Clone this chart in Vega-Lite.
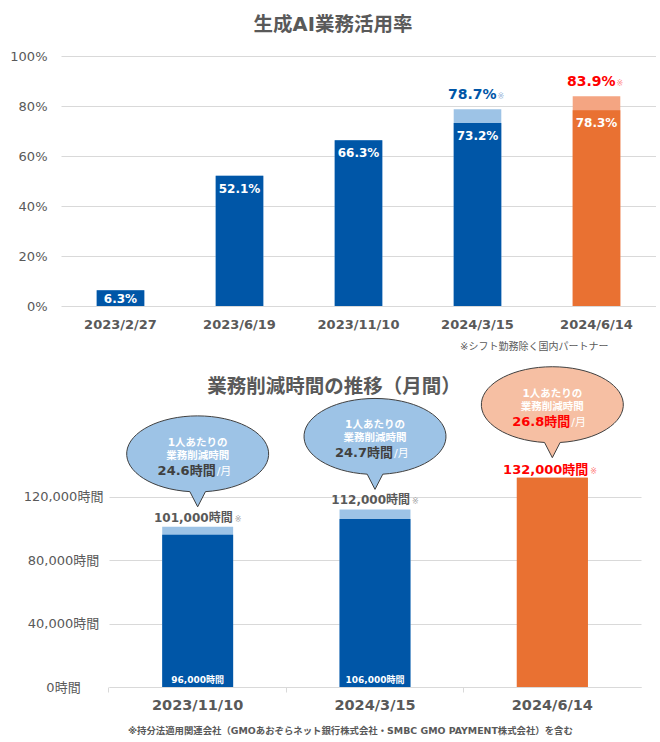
{
  "$schema": "https://vega.github.io/schema/vega-lite/v6.json",
  "background": "white",
  "padding": 0,
  "autosize": {"type": "pad"},
  "config": {
    "view": {"stroke": null},
    "font": "DejaVu Sans, Noto Sans CJK JP",
    "locale": {"number": {"decimal": ".", "thousands": ",", "grouping": [3], "currency": ["", "時間"]}}
  },
  "spacing": 159,
  "bounds": "flush",
  "vconcat": [
    {
      "width": 595,
      "height": 250,
      "title": {"text": "生成AI業務活用率", "fontSize": 19.5, "fontWeight": "bold", "color": "#595959", "anchor": "middle", "frame": "group", "baseline": "middle", "offset": -44, "dx": -25.5},
      "data": {"values": [
        {"date": "2023/2/27", "base": 0.063, "total": 0.063, "kind": "past"},
        {"date": "2023/6/19", "base": 0.521, "total": 0.521, "kind": "past"},
        {"date": "2023/11/10", "base": 0.663, "total": 0.663, "kind": "past"},
        {"date": "2024/3/15", "base": 0.732, "total": 0.787, "kind": "past"},
        {"date": "2024/6/14", "base": 0.783, "total": 0.839, "kind": "latest"}
      ]},
      "encoding": {
        "x": {"field": "date", "type": "nominal", "sort": null,
          "scale": {"type": "band", "domain": ["2023/2/27", "2023/6/19", "2023/11/10", "2024/3/15", "2024/6/14"], "paddingInner": 0.6, "paddingOuter": 0.3},
          "axis": {"title": null, "labelAngle": 0, "labelFontSize": 13, "labelFontWeight": "bold", "labelColor": "#595959", "ticks": false, "tickSize": 0, "domain": false, "labelPadding": 12, "grid": false}}
      },
      "layer": [
        {"mark": {"type": "bar"},
          "encoding": {
            "y": {"field": "total", "type": "quantitative", "scale": {"domain": [0, 1], "nice": false},
              "axis": {"values": [0, 0.2, 0.4, 0.6, 0.8, 1], "format": ".0%", "grid": true, "gridColor": "#D9D9D9", "ticks": false, "tickSize": 0, "domain": false, "labelPadding": 14, "labelFontSize": 13, "labelColor": "#595959", "title": ".", "titleOpacity": 0, "titleX": -61, "titleY": -56, "titleAlign": "left", "titleBaseline": "top", "titleAngle": 0, "titleFontSize": 10}},
            "color": {"condition": {"test": "datum.kind === 'latest'", "value": "#F4A582"}, "value": "#9DC3E6"}
          }},
        {"mark": {"type": "bar"},
          "encoding": {
            "y": {"field": "base", "type": "quantitative", "scale": {"domain": [0, 1], "nice": false}},
            "color": {"condition": {"test": "datum.kind === 'latest'", "value": "#E97132"}, "value": "#0056A7"}
          }},
        {"transform": [{"filter": "datum.base >= 0.1"}],
          "mark": {"type": "text", "baseline": "top", "dy": 8, "fontSize": 12, "fontWeight": "bold", "color": "white"},
          "encoding": {
            "y": {"field": "base", "type": "quantitative", "scale": {"domain": [0, 1], "nice": false}},
            "text": {"field": "base", "type": "quantitative", "format": ".1%"}
          }},
        {"transform": [{"filter": "datum.base < 0.1"}],
          "mark": {"type": "text", "baseline": "top", "dy": 4, "fontSize": 12, "fontWeight": "bold", "color": "white"},
          "encoding": {
            "y": {"field": "base", "type": "quantitative", "scale": {"domain": [0, 1], "nice": false}},
            "text": {"field": "base", "type": "quantitative", "format": ".1%"}
          }},
        {"transform": [{"filter": "datum.total > datum.base"}],
          "mark": {"type": "text", "align": "right", "baseline": "alphabetic", "dx": 19, "dy": -10, "fontSize": 14, "fontWeight": "bold"},
          "encoding": {
            "y": {"field": "total", "type": "quantitative", "scale": {"domain": [0, 1], "nice": false}},
            "text": {"field": "total", "type": "quantitative", "format": ".1%"},
            "color": {"condition": {"test": "datum.kind === 'latest'", "value": "#FF0000"}, "value": "#0056A7"}
          }},
        {"transform": [{"filter": "datum.total > datum.base"}],
          "mark": {"type": "text", "text": "※", "align": "left", "baseline": "alphabetic", "dx": 20, "dy": -10, "fontSize": 8},
          "encoding": {
            "y": {"field": "total", "type": "quantitative", "scale": {"domain": [0, 1], "nice": false}},
            "color": {"condition": {"test": "datum.kind === 'latest'", "value": "#FF8C8C"}, "value": "#9DB8DA"}
          }},
        {"data": {"values": [{"note": "※シフト勤務除く国内パートナー"}]},
          "mark": {"type": "text", "align": "right", "baseline": "middle", "dx": 12, "dy": 41, "fontSize": 10, "color": "#595959"},
          "encoding": {
            "x": {"datum": "2024/6/14"},
            "y": {"datum": 0, "type": "quantitative", "scale": {"domain": [0, 1], "nice": false}},
            "text": {"field": "note", "type": "nominal"}
          }}
      ]
    },
    {
      "spacing": 0,
      "bounds": "flush",
      "hconcat": [
        {"width": 48, "height": 10, "data": {"values": []}, "mark": {"type": "point"}, "encoding": {}},
        {
          "width": 532,
          "height": 222,
          "title": {"text": "業務削減時間の推移（月間）", "fontSize": 19.5, "fontWeight": "bold", "color": "#595959", "anchor": "middle", "frame": "group", "baseline": "middle", "offset": -42, "dx": -41},
          "data": {"values": [
            {"date": "2023/11/10", "base": 96000, "total": 101000, "per": 24.6, "kind": "past"},
            {"date": "2024/3/15", "base": 106000, "total": 112000, "per": 24.7, "kind": "past"},
            {"date": "2024/6/14", "base": 132000, "total": 132000, "per": 26.8, "kind": "latest"}
          ]},
          "encoding": {
            "x": {"field": "date", "type": "nominal", "sort": null,
              "scale": {"type": "band", "domain": ["2023/11/10", "2024/3/15", "2024/6/14"], "paddingInner": 0.6, "paddingOuter": 0.3},
              "axis": {"title": null, "labelAngle": 0, "labelFontSize": 14.5, "labelFontWeight": "bold", "labelColor": "#595959", "ticks": true, "tickSize": 5, "tickColor": "#D9D9D9", "bandPosition": -0.75, "domain": true, "domainColor": "#D9D9D9", "labelPadding": 6, "grid": false}}
          },
          "layer": [
            {"mark": {"type": "bar"},
              "encoding": {
                "y": {"field": "total", "type": "quantitative", "scale": {"domain": [0, 140000], "nice": false},
                  "axis": {"values": [0, 20000, 40000, 60000, 80000, 100000, 120000, 140000], "format": "$,.0f", "labelExpr": "datum.value % 40000 === 0 ? datum.label : ''", "grid": true, "gridColor": "#D9D9D9", "ticks": false, "tickSize": 0, "domain": false, "labelAlign": "center", "labelPadding": 46, "labelFontSize": 13, "labelColor": "#595959", "title": null}},
                "color": {"condition": {"test": "datum.kind === 'latest'", "value": "#E97132"}, "value": "#9DC3E6"}
              }},
            {"mark": {"type": "bar"},
              "encoding": {
                "y": {"field": "base", "type": "quantitative", "scale": {"domain": [0, 140000], "nice": false}},
                "color": {"condition": {"test": "datum.kind === 'latest'", "value": "#E97132"}, "value": "#0056A7"}
              }},
            {"transform": [{"filter": "datum.kind === 'past'"}],
              "mark": {"type": "text", "baseline": "alphabetic", "dy": -4, "fontSize": 9, "fontWeight": "bold", "color": "white"},
              "encoding": {
                "y": {"datum": 0, "type": "quantitative", "scale": {"domain": [0, 140000], "nice": false}},
                "text": {"field": "base", "type": "quantitative", "format": "$,"}
              }},
            {"transform": [{"filter": "datum.kind === 'past'"}],
              "mark": {"type": "text", "align": "right", "baseline": "alphabetic", "dx": 35, "dy": -5, "fontSize": 12, "fontWeight": "bold", "color": "#595959"},
              "encoding": {
                "y": {"field": "total", "type": "quantitative", "scale": {"domain": [0, 140000], "nice": false}},
                "text": {"field": "total", "type": "quantitative", "format": "$,"}
              }},
            {"transform": [{"filter": "datum.kind === 'past'"}],
              "mark": {"type": "text", "text": "※", "align": "left", "baseline": "alphabetic", "dx": 37, "dy": -5, "fontSize": 8, "color": "#A6A6A6"},
              "encoding": {
                "y": {"field": "total", "type": "quantitative", "scale": {"domain": [0, 140000], "nice": false}}
              }},
            {"transform": [{"filter": "datum.kind === 'latest'"}],
              "mark": {"type": "text", "align": "right", "baseline": "alphabetic", "dx": 36, "dy": -4, "fontSize": 13, "fontWeight": "bold", "color": "#FF0000"},
              "encoding": {
                "y": {"field": "total", "type": "quantitative", "scale": {"domain": [0, 140000], "nice": false}},
                "text": {"field": "total", "type": "quantitative", "format": "$,"}
              }},
            {"transform": [{"filter": "datum.kind === 'latest'"}],
              "mark": {"type": "text", "text": "※", "align": "left", "baseline": "alphabetic", "dx": 38, "dy": -4, "fontSize": 8, "color": "#FF8080"},
              "encoding": {
                "y": {"field": "total", "type": "quantitative", "scale": {"domain": [0, 140000], "nice": false}}
              }},
            {"mark": {"type": "point", "shape": "M0.11,-0.496L0,-0.282L-0.11,-0.496A1,0.535,0,1,1,0.11,-0.496Z", "size": 20164, "filled": true, "opacity": 1, "stroke": "#404040", "strokeWidth": 1, "strokeOpacity": 1},
              "encoding": {
                "y": {"field": "total", "type": "quantitative", "scale": {"domain": [0, 140000], "nice": false}},
                "color": {"condition": {"test": "datum.kind === 'latest'", "value": "#F6BFA3"}, "value": "#9DC3E6"}
              }},
            {"mark": {"type": "text", "text": "1人あたりの", "baseline": "middle", "dy": -84, "fontSize": 10.5, "fontWeight": "bold", "color": "white"},
              "encoding": {
                "y": {"field": "total", "type": "quantitative", "scale": {"domain": [0, 140000], "nice": false}}
              }},
            {"mark": {"type": "text", "text": "業務削減時間", "baseline": "middle", "dy": -71, "fontSize": 10.5, "fontWeight": "bold", "color": "white"},
              "encoding": {
                "y": {"field": "total", "type": "quantitative", "scale": {"domain": [0, 140000], "nice": false}}
              }},
            {"mark": {"type": "text", "align": "right", "baseline": "alphabetic", "dx": 18, "dy": -52, "fontSize": 13, "fontWeight": "bold"},
              "encoding": {
                "y": {"field": "total", "type": "quantitative", "scale": {"domain": [0, 140000], "nice": false}},
                "text": {"field": "per", "type": "quantitative", "format": "$.1f"},
                "color": {"condition": {"test": "datum.kind === 'latest'", "value": "#FF0000"}, "value": "#404040"}
              }},
            {"mark": {"type": "text", "text": "/月", "align": "left", "baseline": "alphabetic", "dx": 19, "dy": -52, "fontSize": 11, "color": "white"},
              "encoding": {
                "y": {"field": "total", "type": "quantitative", "scale": {"domain": [0, 140000], "nice": false}}
              }},
            {"data": {"values": [{"note": "※持分法適用関連会社（GMOあおぞらネット銀行株式会社・SMBC GMO PAYMENT株式会社）を含む"}]},
              "mark": {"type": "text", "align": "center", "baseline": "middle", "dx": -24.6, "dy": 44, "fontSize": 9.4, "fontWeight": "bold", "color": "#595959"},
              "encoding": {
                "x": {"datum": "2024/3/15"},
                "y": {"datum": 0, "type": "quantitative", "scale": {"domain": [0, 140000], "nice": false}},
                "text": {"field": "note", "type": "nominal"}
              }}
          ]
        }
      ]
    }
  ]
}
